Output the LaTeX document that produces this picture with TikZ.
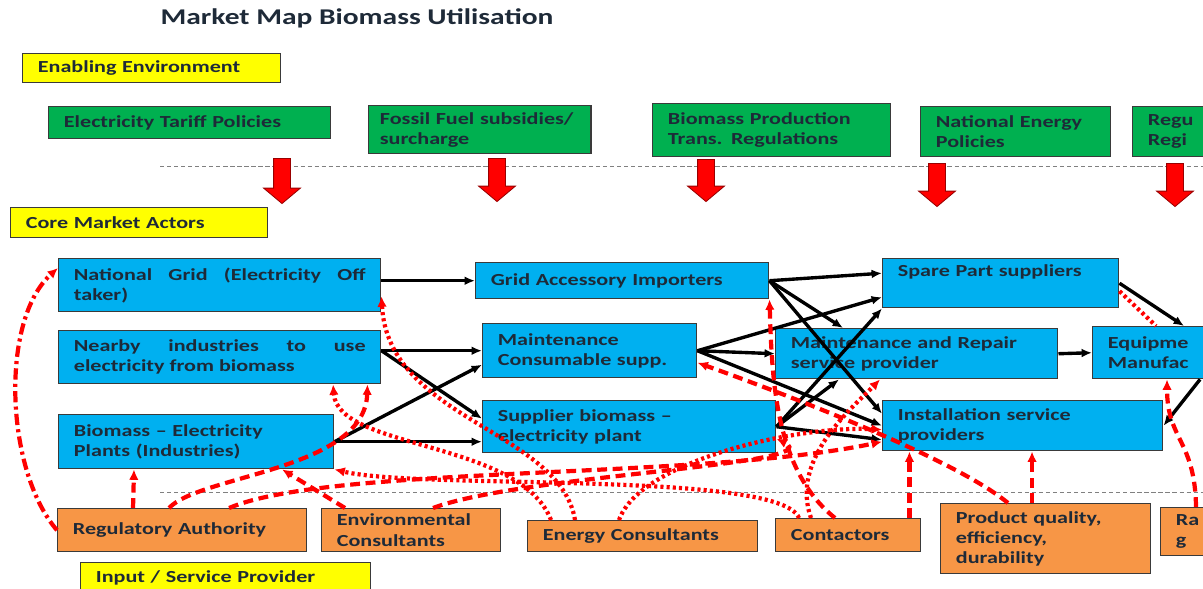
\documentclass[tikz,border=0pt]{standalone}
\usepackage{fontspec}
\setmainfont{Carlito}[FakeStretch=1.31]
\usepackage{tikz}
\usetikzlibrary{
	arrows.meta,
	shapes.arrows,
	calc
}
\definecolor{envyellow}{HTML}{FFFF00}
\definecolor{envgreen}{HTML}{00B050}
\definecolor{actorblue}{HTML}{00B0F0}
\definecolor{provorange}{HTML}{F79646}
\definecolor{boxline}{HTML}{3A3A3A}
\definecolor{txtdark}{HTML}{1E2A38}
\definecolor{linkred}{HTML}{FF0000}
\hyphenpenalty=10000
\exhyphenpenalty=10000

\begin{document}
\begin{tikzpicture}[
    x=0.025cm, y=-0.025cm,
    box/.style={rectangle, draw=boxline, line width=1pt, anchor=north west, align=left, inner xsep=0.38cm, inner ysep=0.05cm, font=\bfseries\fontsize{12}{14.4}\selectfont, text=txtdark},
    headbox/.style={box, fill=envyellow},
    policy/.style={box, fill=envgreen},
    actor/.style={box, fill=actorblue},
    provider/.style={box, fill=provorange},
    blockarrow/.style={single arrow, shape border rotate=270, draw=red!60!black, line width=0.6pt, fill=red, inner xsep=0.2cm, inner ysep=0pt, minimum width=0.9cm, single arrow head extend=0.25cm, single arrow tip angle=100},
    link/.style={-{Latex[length=2.6mm, width=2.2mm]}, line width=2.4pt, black},
    rbase/.style={-{Latex[length=2.6mm, width=2.4mm]}, line width=3pt, linkred},
    rdash/.style={rbase, dash pattern=on 7pt off 4pt},
    rdot/.style={rbase, dash pattern=on 2.2pt off 2.2pt},
    rdashdot/.style={rbase, dash pattern=on 8pt off 3pt on 2.2pt off 3pt}
]
\path[use as bounding box, clip] (0,0) rectangle (1203,588);

\node[font=\bfseries\fontsize{16}{19}\selectfont, text=txtdark] (title) at (357,18) {Market Map Biomass Utilisation};

\node[headbox, text width=5.69cm, minimum height=0.725cm] (envbox) at (22,53) {Enabling Environment};
\node[headbox, text width=5.665cm, minimum height=0.75cm] (corebox) at (10,207) {Core Market Actors};
\node[headbox, text width=6.49cm, minimum height=0.75cm] (inputbox) at (80,562) {Input / Service Provider};

\node[policy, text width=6.29cm, minimum height=0.8cm] (tariff) at (48,106) {Electricity Tariff Policies};
\node[policy, inner xsep=0.28cm, text width=5.0cm, minimum height=1.2cm] (fossil) at (368,105) {Fossil Fuel subsidies/\\surcharge};
\node[policy, text width=5.19cm, minimum height=1.325cm] (bioprod) at (652,103) {Biomass Production\\Trans. Regulations};
\node[policy, text width=3.99cm, minimum height=1.25cm] (natenergy) at (920,106) {National Energy\\Policies};
\node[policy, text width=2.99cm, minimum height=1.25cm] (regu) at (1132,106) {Regu\\Regi};

\draw[gray, densely dashed, line width=0.6pt] (160,166) -- (1203,166);
\draw[gray, densely dashed, line width=0.6pt] (160,492) -- (1203,492);

\foreach \n/\x/\y/\l in {1/282/177.5/1.125cm, 2/497/176.5/1.075cm, 3/706/177/1.05cm, 4/937/181.5/1.075cm, 5/1175/181.5/1.075cm}
    \node[blockarrow, minimum height=\l] (arr\n) at (\x,\y) {};

\node[actor, align=justify, text width=7.29cm, minimum height=1.325cm] (natgrid) at (58,258) {National Grid (Electricity Off taker)};
\node[actor, align=justify, text width=7.29cm, minimum height=1.325cm] (nearby) at (58,330) {Nearby industries to use electricity from biomass};
\node[actor, text width=6.115cm, minimum height=1.35cm] (bioplant) at (58,414) {Biomass -- Electricity\\Plants (Industries)};
\node[actor, text width=6.565cm, minimum height=0.9cm] (gridacc) at (475,262) {Grid Accessory Importers};
\node[actor, text width=4.59cm, minimum height=1.35cm] (maintcons) at (482,323) {Maintenance\\Consumable supp.};
\node[actor, text width=6.565cm, minimum height=1.3cm] (supplier) at (482,400) {Supplier biomass --\\electricity plant};
\node[actor, text width=5.14cm, minimum height=1.225cm, text depth=0.62cm] (spare) at (882,258) {Spare Part suppliers};
\node[actor, text width=6.29cm, minimum height=1.25cm] (maintrep) at (775,328) {Maintenance and Repair\\service provider};
\node[actor, text width=6.24cm, minimum height=1.25cm] (install) at (882,400) {Installation service\\providers};
\node[actor, text width=3.24cm, minimum height=1.3cm] (equip) at (1092,326) {Equipme\\Manufac};

\node[provider, text width=5.465cm, minimum height=1.075cm] (regauth) at (57,508) {Regulatory Authority};
\node[provider, text width=3.715cm, minimum height=1.075cm] (envcons) at (321,508) {Environmental\\Consultants};
\node[provider, text width=4.99cm, minimum height=0.775cm] (energycons) at (527,520) {Energy Consultants};
\node[provider, text width=2.865cm, minimum height=0.825cm] (contactors) at (775,518) {Contactors};
\node[provider, text width=4.49cm, minimum height=1.75cm] (productq) at (940,503) {Product quality,\\efficiency,\\durability};
\node[provider, text width=1.74cm, minimum height=1.2cm] (ragrp) at (1160,507) {Ra\\g};

\draw[link] (natgrid.east |- gridacc.west) -- (gridacc.west);
\draw[link] (nearby.east |- maintcons.west) -- (maintcons.west);
\draw[link] (nearby.east |- maintcons.west) -- ([yshift=0.2cm]supplier.west);
\draw[link] (bioplant.east) -- ([yshift=-0.35cm]maintcons.west);
\draw[link] (bioplant.east) -- (supplier.west |- bioplant.east);
\draw[link] (gridacc.east) -- ([yshift=0.25cm]spare.west);
\draw[link] (gridacc.east) -- ([xshift=1.7cm]maintrep.north west);
\draw[link] (gridacc.east) -- ([yshift=0.3cm]install.west);
\draw[link] (maintcons.east) -- (maintrep.west);
\draw[link] (maintcons.east) -- ([yshift=-0.35cm]spare.west);
\draw[link] (maintcons.east) -- (install.west);
\draw[link] (supplier.east) -- (spare.south west);
\draw[link] (supplier.east) -- ([xshift=1.6cm]maintrep.south west);
\draw[link] (supplier.east) -- ([yshift=-0.35cm]install.west);
\draw[link] (maintrep.east) -- (equip.west);
\draw[link] (spare.east) -- ([xshift=2.3cm]equip.north west);
\draw[link] ([xshift=2.7cm]equip.south west) -- (install.east);

\draw[rdashdot] (regauth.west) .. controls (5,470) and (0,320) .. ([yshift=-0.25cm]natgrid.north west);
\draw[rdash] ([xshift=1.9cm]regauth.north west) -- ([xshift=1.9cm]bioplant.south west);
\draw[rdash] ([xshift=2.8cm]regauth.north west) .. controls (200,475) and (365,470) .. ([xshift=-0.35cm]nearby.south east);
\draw[rdash] ([xshift=4.3cm]regauth.north west) .. controls (330,465) and (700,480) .. ([yshift=-0.4cm]install.west);
\draw[rdash] ([xshift=0.6cm]envcons.north west) -- ([xshift=5.6cm]bioplant.south west);
\draw[rdash] ([xshift=2.8cm]envcons.north west) .. controls (520,475) and (830,465) .. ([yshift=-0.3cm]supplier.east);
\draw[rdot] ([xshift=1.2cm]energycons.north west) .. controls (560,430) and (388,420) .. ([yshift=0.4cm]natgrid.south east);
\draw[rdot] ([xshift=0.6cm]energycons.north west) .. controls (520,440) and (338,450) .. ([xshift=6.875cm]nearby.south west);
\draw[rdot] ([xshift=2.3cm]energycons.north west) .. controls (640,460) and (800,425) .. ([yshift=-0.1cm]install.west);
\draw[rdash] ([xshift=1.5cm]contactors.north west) .. controls (775,470) and (772,380) .. (gridacc.south east);
\draw[rdot] ([xshift=0.6cm]contactors.north west) .. controls (780,470) and (420,490) .. (bioplant.south east);
\draw[rdot] ([xshift=0.9cm]contactors.north west) .. controls (790,460) and (850,410) .. ([xshift=2.625cm]maintrep.south west);
\draw[rdash] ([xshift=-0.3cm]contactors.north east) -- ([xshift=-0.3cm]contactors.north east |- install.south);
\draw[rdash] ([xshift=1.7cm]productq.north west) .. controls (950,455) and (760,385) .. ([yshift=-0.3cm]maintcons.east);
\draw[rdash] ([xshift=2.3cm]productq.north west) -- ([xshift=2.3cm]productq.north west |- install.south);
\draw[rdash] ([xshift=0.9cm]ragrp.north west) .. controls (1195,440) and (1167,440) .. ([xshift=1.875cm]equip.south west);
\draw[rdot, -] ([yshift=-0.2cm]spare.east) -- ([xshift=1.6cm]equip.north west);
\end{tikzpicture}
\end{document}
